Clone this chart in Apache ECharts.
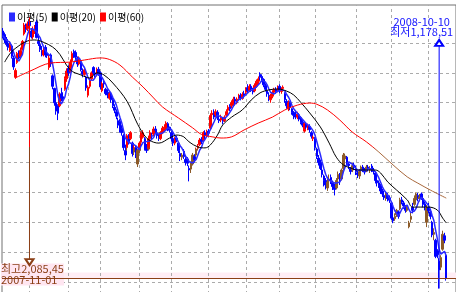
<!DOCTYPE html>
<html><head><meta charset="utf-8">
<script src="https://cdn.jsdelivr.net/npm/echarts@6/dist/echarts.min.js"></script>
<style>html,body{margin:0;padding:0;background:#fff}#c{width:456px;height:292px}</style>
</head><body><div id="c"></div>
<script>
// ---- data ----
const firstDay = '2007-10-11';
const holidays = ['2007-12-19','2007-12-25','2007-12-31','2008-01-01','2008-02-06','2008-02-07','2008-02-08',
  '2008-04-09','2008-05-01','2008-05-05','2008-05-12','2008-06-06','2008-08-15','2008-09-15','2008-10-03'];
const opens = [2040,2028,2012,1998,1975,1990,1950,1885,1935,1962,1955,1978,2030,2055,2048,2072,2040,2020,2040,2070,2005,1995,1975,1960,1985,1965,1918,1960,1890,1848,1800,1790,1790,1830,1820,1845,1880,1915,1905,1940,1972,1968,1948,1930,1935,1905,1895,1885,1825,1855,1880,1918,1900,1895,1912,1900,1840,1868,1845,1835,1815,1825,1810,1785,1770,1740,1738,1715,1690,1640,1650,1680,1680,1665,1635,1650,1595,1640,1668,1685,1680,1655,1645,1680,1690,1695,1712,1700,1685,1680,1700,1715,1712,1730,1718,1700,1680,1665,1682,1665,1630,1618,1638,1610,1612,1580,1578,1595,1620,1625,1648,1660,1678,1675,1700,1690,1705,1715,1760,1768,1760,1768,1745,1742,1745,1740,1758,1775,1788,1790,1792,1812,1800,1815,1825,1815,1830,1835,1850,1842,1855,1845,1840,1855,1872,1895,1888,1878,1858,1840,1825,1810,1822,1835,1845,1840,1855,1838,1848,1830,1805,1780,1800,1780,1768,1760,1752,1760,1750,1735,1705,1728,1715,1720,1700,1680,1680,1645,1615,1600,1575,1555,1540,1515,1540,1550,1535,1520,1515,1545,1555,1545,1580,1612,1618,1595,1580,1575,1592,1580,1565,1555,1575,1585,1572,1575,1585,1575,1588,1575,1565,1540,1532,1522,1505,1490,1480,1490,1482,1465,1415,1412,1425,1435,1445,1475,1465,1450,1440,1385,1410,1450,1460,1475,1490,1480,1495,1480,1462,1400,1450,1435,1400,1360,1340,1305,1270,1250,1310,1355,1290];
const closes = [2024,2010,1995,1985,1995,1955,1920,1908,1965,1950,1975,2005,2060,2045,2064,2058,2020,2045,2050,2018,1998,1978,1960,1975,1960,1958,1950,1930,1855,1800,1772,1765,1828,1815,1810,1880,1906,1900,1935,1965,1960,1952,1930,1945,1910,1895,1910,1850,1852,1875,1900,1900,1895,1910,1897,1853,1864,1863,1831,1826,1830,1810,1790,1775,1755,1725,1712,1700,1650,1625,1690,1670,1700,1630,1650,1630,1640,1665,1700,1700,1645,1640,1680,1700,1688,1712,1708,1690,1680,1700,1715,1718,1732,1715,1708,1680,1665,1678,1675,1640,1620,1625,1620,1600,1598,1575,1595,1625,1610,1645,1655,1675,1670,1700,1690,1704,1698,1757,1765,1752,1770,1750,1740,1752,1738,1752,1770,1785,1780,1800,1812,1805,1812,1822,1815,1828,1825,1845,1840,1855,1845,1836,1858,1872,1880,1885,1880,1860,1845,1830,1815,1822,1835,1845,1838,1852,1840,1845,1852,1810,1790,1800,1785,1768,1758,1752,1762,1745,1735,1725,1730,1718,1725,1710,1688,1685,1650,1620,1600,1580,1560,1540,1525,1535,1545,1540,1520,1510,1540,1560,1545,1575,1625,1622,1600,1590,1570,1590,1585,1570,1560,1570,1585,1575,1568,1585,1580,1580,1578,1570,1540,1532,1522,1505,1495,1482,1495,1480,1474,1414,1405,1420,1440,1420,1475,1468,1455,1440,1450,1398,1420,1440,1480,1495,1480,1485,1480,1460,1452,1448,1439,1420,1358,1366,1286,1292,1241,1282,1360,1340,1213.78];
const lows = [2015,2000,1988,1975,1970,1948,1910,1880,1930,1945,1950,1975,2025,2035,2040,2048,2015,2012,2030,2015,1990,1970,1955,1955,1952,1950,1910,1920,1845,1790,1760,1742,1785,1805,1800,1840,1870,1890,1900,1935,1950,1940,1920,1925,1905,1885,1890,1840,1818,1848,1875,1893,1885,1888,1890,1845,1835,1850,1825,1815,1810,1800,1782,1765,1745,1715,1700,1690,1640,1608,1640,1660,1675,1620,1625,1615,1585,1632,1665,1680,1640,1632,1640,1675,1678,1688,1698,1680,1672,1675,1695,1705,1708,1705,1700,1670,1655,1658,1668,1632,1605,1608,1612,1590,1588,1537,1565,1590,1600,1620,1640,1655,1662,1670,1680,1685,1690,1712,1750,1745,1752,1742,1732,1735,1728,1735,1752,1768,1772,1782,1786,1795,1795,1808,1808,1810,1815,1828,1833,1836,1836,1828,1835,1850,1862,1876,1870,1852,1838,1820,1805,1800,1815,1828,1830,1835,1832,1830,1840,1800,1780,1772,1775,1760,1745,1745,1745,1738,1728,1718,1700,1712,1708,1700,1680,1672,1640,1612,1590,1575,1550,1520,1510,1505,1530,1528,1508,1490,1510,1540,1525,1540,1575,1605,1592,1578,1560,1568,1575,1558,1548,1545,1568,1568,1560,1568,1570,1565,1568,1560,1530,1520,1515,1495,1485,1475,1472,1470,1465,1408,1397,1405,1418,1412,1440,1460,1445,1432,1435,1380,1400,1430,1455,1465,1470,1470,1475,1450,1440,1384,1430,1410,1350,1340,1280,1280,1178.51,1240,1305,1330,1205];
const highs = [2050,2035,2020,2005,2005,1995,1958,1915,1970,1975,1985,2010,2067,2065,2072,2085.45,2050,2055,2060,2078,2030,2005,1990,1990,1993,1985,1960,1965,1895,1850,1810,1795,1835,1850,1835,1888,1915,1925,1945,1972,1978,1975,1955,1955,1940,1915,1918,1890,1858,1882,1905,1922,1915,1918,1920,1905,1870,1875,1850,1845,1838,1835,1818,1795,1778,1750,1745,1725,1695,1660,1695,1695,1705,1670,1660,1658,1645,1670,1705,1708,1685,1662,1690,1708,1700,1720,1722,1710,1695,1705,1722,1728,1738,1735,1720,1705,1688,1685,1690,1668,1640,1632,1645,1618,1618,1590,1600,1632,1628,1650,1662,1682,1685,1705,1708,1710,1712,1765,1775,1778,1778,1775,1755,1760,1752,1758,1778,1792,1795,1808,1820,1820,1818,1830,1832,1835,1840,1852,1862,1862,1862,1850,1865,1878,1888,1902,1895,1882,1865,1848,1835,1830,1842,1850,1852,1858,1862,1852,1858,1835,1812,1808,1805,1782,1772,1772,1770,1765,1755,1742,1735,1735,1730,1728,1705,1690,1685,1650,1625,1610,1585,1560,1548,1545,1560,1560,1540,1530,1548,1570,1565,1580,1632,1630,1622,1602,1585,1598,1600,1590,1572,1578,1590,1592,1582,1592,1592,1588,1595,1582,1570,1548,1540,1528,1512,1498,1502,1498,1490,1470,1425,1430,1445,1440,1482,1485,1472,1458,1458,1405,1435,1465,1490,1500,1498,1495,1500,1485,1470,1458,1465,1440,1405,1380,1345,1310,1280,1290,1372,1365,1300];
const ma20Idx = [1,6,17,21,30,38,44,49,53,57,62,70,76,81,85,88,94,98,102,105,110,114,117,121,124,129,135,140,145,150,155,160,164,168,173,179,184,188,192,196,200,210,213,217,222,228,231,240,245,248,250];
const ma20Val = [1936,1977,2010,2007,1977,1910,1893,1883,1900,1893,1866,1805,1728,1682,1668,1665,1682,1692,1686,1669,1652,1649,1659,1692,1726,1752,1776,1809,1833,1843,1846,1839,1826,1801,1766,1719,1665,1618,1592,1582,1575,1575,1565,1535,1508,1475,1451,1451,1441,1414,1398];
const ma60Idx = [7,15,27,38,46,55,60,66,73,79,85,90,99,107,112,118,123,129,136,144,152,159,166,173,177,183,190,197,205,212,220,228,234,241,250];
const ma60Val = [1883,1905,1933,1936,1943,1950,1945,1926,1886,1853,1816,1786,1749,1716,1694,1686,1682,1686,1709,1732,1752,1776,1792,1799,1795,1776,1742,1702,1669,1635,1592,1552,1531,1508,1481];
const gridPrices = [1200,1300,1400,1500,1600,1700,1800,1900,2000];
const legendNames = ['이평(5)','이평(20)','이평(60)'];
const highIdx = 15, highPrice = 2085.45, highLabel = '최고2,085,45', highDate = '2007-11-01', highArrowAt = 1267;
const lowIdx = 246, lowPrice = 1178.51, lowLabel = '최저1,178,51', lowDate = '2008-10-10', lowArrowAt = 2000;
const lastPrice = 1213.78;
const colorSplitPrice = 1652;   // level where the picture's red turns brown
const padCount = 5;

// ---- categories: trading days ----
const dates = [];
(function(){
  let t = Date.parse(firstDay + 'T00:00:00Z');
  while (dates.length < closes.length) {
    const d = new Date(t); const wd = d.getUTCDay();
    const s = d.toISOString().slice(0,10);
    if (wd !== 0 && wd !== 6 && holidays.indexOf(s) < 0) dates.push(s);
    t += 86400000;
  }
})();
const categories = dates.concat(Array.from({length: padCount}, (_, i) => 'pad' + i));
const monthStarts = dates.filter((d, i) => i > 0 && d.slice(0,7) !== dates[i-1].slice(0,7));

const candle = dates.map((d, i) => [opens[i], closes[i], lows[i], highs[i]]);
const ma5 = closes.map((c, i) => {
  const s = closes.slice(Math.max(0, i - 4), i + 1);
  return +(s.reduce((a, b) => a + b, 0) / s.length).toFixed(2);
});
const ma20 = ma20Idx.map((k, i) => [dates[k], ma20Val[i]]);
const ma60 = ma60Idx.map((k, i) => [dates[k], ma60Val[i]]);

// ---- styles ----
const FONT = '"Noto Sans CJK KR", "Noto Sans", sans-serif';
const BROWN = '#8b3f16';
const redBrown = (b) => new echarts.graphic.LinearGradient(0, 0, 0, 292,
  [{offset: 0, color: '#ff0000'}, {offset: 0.5, color: '#ff0000'}, {offset: 0.515, color: b}, {offset: 1, color: b}], true);
const BLUE = '#0000ff';

const chart = echarts.init(document.getElementById('c'), null, {renderer: 'canvas'});
chart.setOption({
  animation: false,
  backgroundColor: '#fff',
  legend: {
    data: legendNames, left: 4, top: 7, icon: 'rect', itemWidth: 6, itemHeight: 9, itemGap: 4,
    selectedMode: false, itemStyle: {borderWidth: 0},
    textStyle: {fontSize: 10, color: '#000', fontFamily: FONT, padding: [0, 0, 0, -3]}
  },
  grid: {left: 2, right: 0, top: 5, bottom: -20, show: true, borderColor: '#707070', borderWidth: 1,
    backgroundColor: 'transparent', outerBoundsMode: 'none'},
  xAxis: {type: 'category', data: categories, boundaryGap: true, show: false},
  yAxis: {type: 'value', min: 1100, max: 2127, show: false, splitLine: {show: false}},
  series: [
    {
      type: 'line', data: [], silent: true, z: 1,
      markArea: {silent: true, z: 0, itemStyle: {color: '#ffedf5'},
        data: [[{yAxis: lastPrice}, {yAxis: lastPrice + 18}]]},
      markLine: {
        silent: true, z: 1, symbol: ['none', 'none'], label: {show: false},
        lineStyle: {color: '#ababab', type: [3, 3], width: 1},
        data: gridPrices.map(p => ({yAxis: p})).concat(monthStarts.map(d => ({xAxis: d})))
      }
    },
    {
      type: 'candlestick', data: candle, barWidth: 2, z: 2,
      itemStyle: {color: redBrown('#8c5a28'), color0: BLUE, borderColor: redBrown('#8c5a28'), borderColor0: BLUE, borderWidth: 1},
      markLine: {
        silent: true, z: 6, label: {show: false}, symbol: ['none', 'none'],
        data: [{yAxis: lastPrice, lineStyle: {color: BROWN, width: 1, type: 'solid'}}]
      },
      markPoint: {
        silent: true, symbol: 'circle', symbolSize: 1, itemStyle: {color: 'rgba(0,0,0,0)'},
        data: [
          {coord: [dates[lowIdx], lowArrowAt], label: {show: true, position: [-17, -26], align: 'center', verticalAlign: 'top',
            formatter: lowDate + '\n' + lowLabel, color: '#1414ff', fontSize: 11, lineHeight: 10, fontFamily: FONT}},
          {coord: [dates[highIdx], highArrowAt], label: {show: true, position: [-28, 2], align: 'left', verticalAlign: 'top',
            formatter: highLabel + '\n' + highDate, color: BROWN, fontSize: 11, lineHeight: 11, fontFamily: FONT,
            backgroundColor: '#ffe6f1'}}
        ]
      }
    },
    {type: 'line', silent: true, z: 6, symbol: 'none',
      data: [[dates[highIdx], highPrice], [dates[highIdx], colorSplitPrice]],
      lineStyle: {color: '#ff0000', width: 1}},
    {type: 'line', silent: true, z: 6, showSymbol: true, showAllSymbol: true,
      data: [{value: [dates[highIdx], colorSplitPrice], symbol: 'none'},
             {value: [dates[highIdx], highArrowAt], symbol: 'emptyTriangle', symbolSize: [8, 6], symbolRotate: 180}],
      itemStyle: {color: BROWN, borderColor: BROWN, borderWidth: 1},
      lineStyle: {color: BROWN, width: 1}},
    {type: 'line', silent: true, z: 6, showSymbol: true, showAllSymbol: true,
      data: [{value: [dates[lowIdx], lowPrice], symbol: 'none'},
             {value: [dates[lowIdx], lowArrowAt], symbol: 'emptyTriangle', symbolSize: [8, 6]}],
      itemStyle: {color: BLUE, borderColor: BLUE, borderWidth: 1},
      lineStyle: {color: BLUE, width: 1}},
    {name: legendNames[0], type: 'line', data: ma5, symbol: 'none', z: 3,
      itemStyle: {color: '#2a2aff'}, lineStyle: {color: '#2a2aff', width: 1.5}},
    {name: legendNames[1], type: 'line', data: ma20, symbol: 'none', smooth: 0.35, z: 4,
      itemStyle: {color: '#000'}, lineStyle: {color: '#000', width: 1}},
    {name: legendNames[2], type: 'line', data: ma60, symbol: 'none', smooth: 0.35, z: 4,
      itemStyle: {color: '#ff0000'}, lineStyle: {color: redBrown('#a8683c'), width: 1}}
  ]
});
</script></body></html>
